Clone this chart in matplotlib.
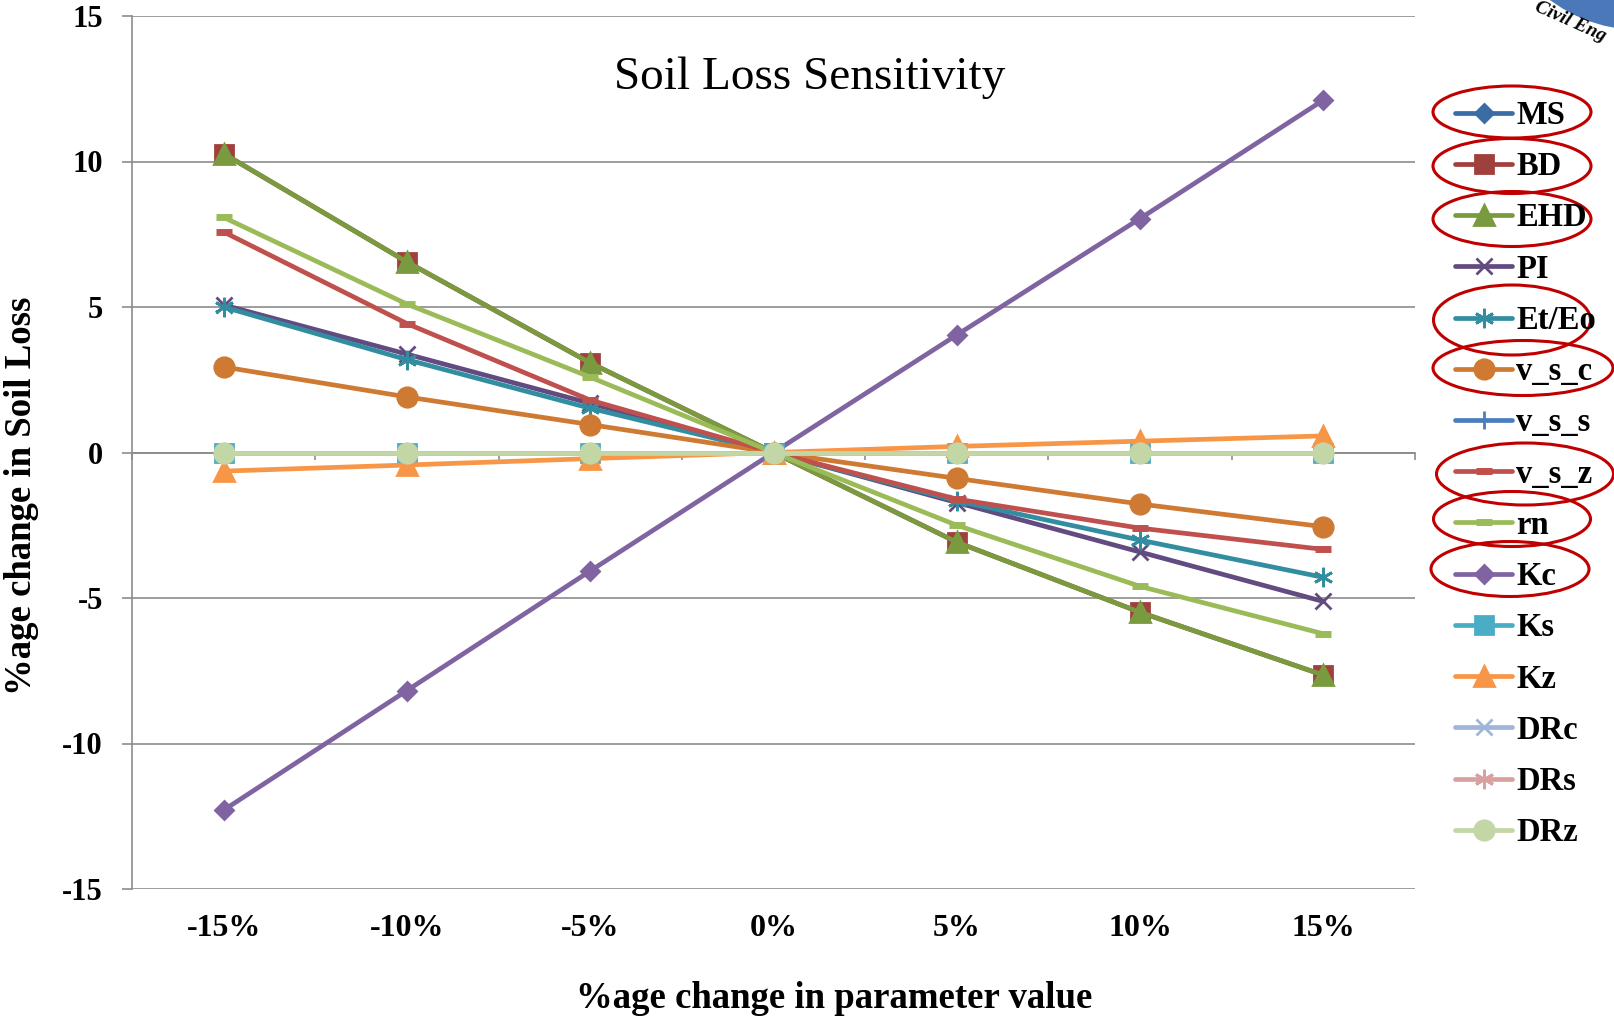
import numpy as np
import matplotlib
matplotlib.use("Agg")
from matplotlib import pyplot as plt
from matplotlib.patches import Ellipse

categories = ['-15%', '-10%', '-5%', '0%', '5%', '10%', '15%']

series_names = ['MS', 'BD', 'EHD', 'PI', 'Et/Eo', 'v_s_c', 'v_s_s', 'v_s_z',
                'rn', 'Kc', 'Ks', 'Kz', 'DRc', 'DRs', 'DRz']

ms_vals = [0, 0, 0, 0, 0, 0, 0]
bd_vals = [10.27, 6.55, 3.08, 0, -3.08, -5.49, -7.65]
ehd_vals = [10.27, 6.55, 3.08, 0, -3.08, -5.49, -7.65]
pi_vals = [5.07, 3.38, 1.69, 0, -1.72, -3.42, -5.12]
eteo_vals = [5.00, 3.19, 1.52, 0, -1.66, -3.01, -4.29]
vsc_vals = [2.94, 1.91, 0.96, 0, -0.89, -1.77, -2.55]
vss_vals = [0, 0, 0, 0, 0, 0, 0]
vsz_vals = [7.58, 4.43, 1.80, 0, -1.60, -2.60, -3.33]
rn_vals = [8.08, 5.10, 2.59, 0, -2.50, -4.60, -6.23]
kc_vals = [-12.29, -8.18, -4.07, 0, 4.04, 8.04, 12.11]
ks_vals = [0, 0, 0, 0, 0, 0, 0]
kz_vals = [-0.64, -0.43, -0.21, 0, 0.21, 0.39, 0.57]
drc_vals = [0, 0, 0, 0, 0, 0, 0]
drs_vals = [0, 0, 0, 0, 0, 0, 0]
drz_vals = [0, 0, 0, 0, 0, 0, 0]

all_vals = [ms_vals, bd_vals, ehd_vals, pi_vals, eteo_vals, vsc_vals, vss_vals,
            vsz_vals, rn_vals, kc_vals, ks_vals, kz_vals, drc_vals, drs_vals, drz_vals]

colors = ['#3A6CA5', '#A0403D', '#7A9A40', '#614B80', '#338DA0', '#CF7A33',
          '#4A7EBB', '#C0504D', '#9BBB59', '#8064A2', '#4BACC6', '#F79646',
          '#A0B6D8', '#D9A0A0', '#C3D6A5']
asterisk = (6, 2, 0)
markers = ['D', 's', '^', 'x', asterisk, 'o', '+', '_', '_', 'D', 's', '^',
           'x', asterisk, 'o']
msizes = [9.5, 13, 14, 11, 14, 14, 13, 12, 12, 9.5, 13, 14, 11, 14, 14]

circled = ['MS', 'BD', 'EHD', 'Et/Eo', 'v_s_c', 'v_s_z', 'rn', 'Kc']

W, H = 1614, 1017
plt.rcParams['font.family'] = ['Liberation Serif', 'DejaVu Serif']
fig = plt.figure(figsize=(W / 100, H / 100), dpi=100)
ax = fig.add_axes([132 / W, 1 - 889 / H, (1415 - 132) / W, (889 - 16) / H])

x = np.arange(len(categories))
for name, vals, c, m, s in zip(series_names, all_vals, colors, markers, msizes):
    mew = 2.0
    if m == '_':
        mew = 5
    ax.plot(x, vals, color=c, lw=3.4, marker=m, markersize=s,
            markerfacecolor=c, markeredgecolor=c, markeredgewidth=mew,
            solid_capstyle='round', label=name, zorder=3)

grid_c = '#8C8C8C'
ax.set_ylim(-15, 15)
ax.set_xlim(-0.5, len(categories) - 0.5)
ax.set_yticks([-15, -10, -5, 0, 5, 10, 15])
ax.set_yticklabels(['-15', '-10', '-5', '0', '5', '10', '15'],
                   fontsize=22, fontweight='bold')
ax.yaxis.grid(True, color=grid_c, lw=1.2, zorder=0)
ax.tick_params(axis='y', length=7, width=1.2, color=grid_c, pad=14)

# category axis crosses at zero, labels sit below the plot
for side in ['top', 'right']:
    ax.spines[side].set_visible(False)
ax.spines['left'].set_color(grid_c)
ax.spines['left'].set_linewidth(1.2)
ax.spines['bottom'].set_position(('data', 0))
ax.spines['bottom'].set_color(grid_c)
ax.spines['bottom'].set_linewidth(1.2)
ax.spines['bottom'].set_zorder(1)
ax.set_xticks(x)
ax.set_xticklabels(categories, fontsize=23, fontweight='bold')
ax.set_xticks(np.arange(len(categories) + 1) - 0.5, minor=True)
ax.tick_params(axis='x', which='major', length=0, pad=332)
ax.tick_params(axis='x', which='minor', length=5, width=1.2, color=grid_c)
ax.set_axisbelow(True)

fig.text(810 / W, 1 - 78 / H, 'Soil Loss Sensitivity', fontsize=34,
         ha='center', va='center')
fig.text(834 / W, 1 - 999 / H, '%age change in parameter value', fontsize=26.5,
         fontweight='bold', ha='center', va='center')
fig.text(22 / W, 1 - 496 / H, '%age change in Soil Loss', fontsize=26.5,
         fontweight='bold', ha='center', va='center', rotation=90)

leg = fig.legend(loc='upper left', bbox_to_anchor=(1455 / W, 1 - 100 / H),
                 frameon=False, fontsize=23.5, handlelength=1.75,
                 handletextpad=0.12, labelspacing=0.62, borderpad=0,
                 borderaxespad=0)
for t in leg.get_texts():
    t.set_fontweight('bold')

# red circles drawn round some legend entries
rings = {'MS': (1512, 112, 158, 52), 'BD': (1512, 166, 158, 55),
         'EHD': (1512, 219, 158, 55), 'Et/Eo': (1512, 320, 157, 70),
         'v_s_c': (1523, 368, 180, 55), 'v_s_z': (1525, 474, 177, 62),
         'rn': (1512, 519, 157, 55), 'Kc': (1510, 569, 158, 55)}
for name in circled:
    cx, cy, w, h = rings[name]
    fig.patches.append(Ellipse((cx / W, 1 - cy / H), w / W, h / H,
                               transform=fig.transFigure, fill=False,
                               edgecolor='#C00000', lw=2.2, zorder=5))

# corner of the institute logo
fig.patches.append(Ellipse((1640 / W, 1 + 120 / H), 300 / W, 300 / H,
                           transform=fig.transFigure, facecolor='#4A78B8',
                           edgecolor='none'))
fig.text(1532 / W, 1 - 22 / H, 'Civil Eng', fontsize=14, fontweight='bold',
         fontstyle='italic', rotation=-24, ha='left', va='center')

plt.savefig('out.png', dpi=100)
